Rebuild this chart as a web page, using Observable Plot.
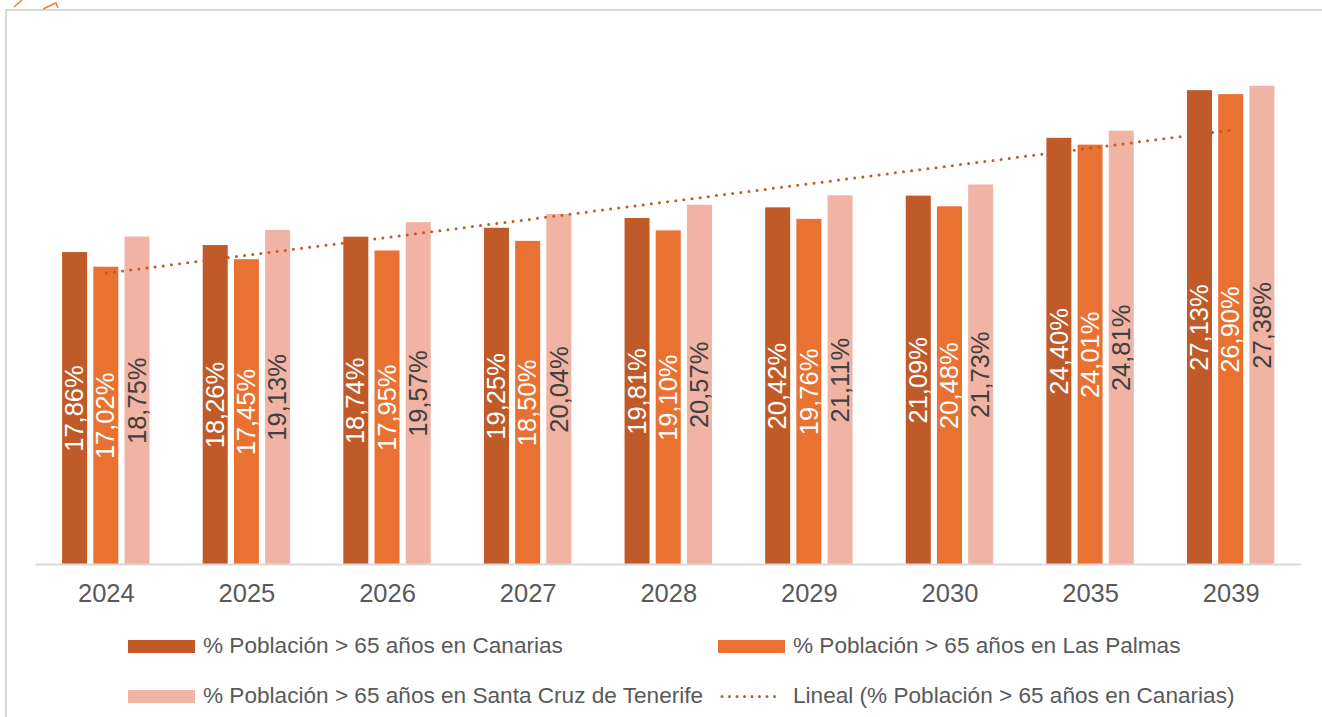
<!DOCTYPE html>
<html>
<head>
<meta charset="utf-8">
<script src="https://cdn.jsdelivr.net/npm/d3@7"></script>
<script src="https://cdn.jsdelivr.net/npm/@observablehq/plot@0.6"></script>
<style>
  html, body { margin: 0; padding: 0; background: #fff; overflow: hidden; width: 1322px; height: 717px; }
  body { font-family: "Liberation Sans", Arial, sans-serif; position: relative; }
  #frame { position: absolute; left: 5px; top: 9px; width: 1400px; height: 800px; border: 2px solid #d9d9d9; box-sizing: border-box; }
  #deco { position: absolute; left: 0; top: 0; }
  #chart { position: absolute; left: 0; top: 0; }
  #legend { position: absolute; left: 128px; top: 621px; color: #595959; font-size: 22.6px; }
  .row { height: 50px; display: flex; align-items: center; }
  .item { display: flex; align-items: center; width: 590px; white-space: nowrap; }
  .sw { width: 67px; height: 13px; margin-right: 8px; flex: none; }
</style>
</head>
<body>
<div id="frame"></div>
<svg id="deco" width="70" height="20"><polyline points="14,7 22,0" fill="none" stroke="#ED7D31" stroke-width="1.5"/><polyline points="43,9 56,3 58,8" fill="none" stroke="#ED7D31" stroke-width="1.5"/></svg>
<div id="chart"></div>
<div id="legend"></div>
<script>
const years = ["2024", "2025", "2026", "2027", "2028", "2029", "2030", "2035", "2039"];
const canarias = [17.86, 18.26, 18.74, 19.25, 19.81, 20.42, 21.09, 24.40, 27.13];
const lasPalmas = [17.02, 17.45, 17.95, 18.50, 19.10, 19.76, 20.48, 24.01, 26.90];
const tenerife = [18.75, 19.13, 19.57, 20.04, 20.57, 21.11, 21.73, 24.81, 27.38];
const seriesNames = [
  "% Población > 65 años en Canarias",
  "% Población > 65 años en Las Palmas",
  "% Población > 65 años en Santa Cruz de Tenerife"
];
const trendName = "Lineal (% Población > 65 años en Canarias)";
const colors = ["#C05A28", "#E97132", "#F1B3A3"];
const labelColors = ["#ffffff", "#ffffff", "#404040"];

const seriesValues = [canarias, lasPalmas, tenerife];
const rows = seriesValues.map((vals, k) => years.map((y, i) => ({year: y, serie: k, value: vals[i]})));

// linear trend (least squares) of Canarias vs category index, like a spreadsheet trendline
const mx = d3.mean(canarias, (_, i) => i);
const my = d3.mean(canarias);
const slope = d3.sum(canarias, (v, i) => (i - mx) * (v - my)) / d3.sum(canarias, (_, i) => (i - mx) ** 2);
const intercept = my - slope * mx;
const trend = years.map((y, i) => ({year: y, value: intercept + slope * i}));

const W = 1322, H = 616;
const mL = 35.5, mR = 21;
const step = (W - mL - mR) / years.length;
const barW = 25;
const inset = (step - barW) / 2;
const offsets = [-31.2, 0, 31.2];
const fmt = v => v.toFixed(2).replace(".", ",") + "%";

const marks = [];
rows.forEach((data, k) => {
  marks.push(Plot.barY(data, {x: "year", y: "value", fill: colors[k], dx: offsets[k], insetLeft: inset, insetRight: inset}));
});
marks.push(Plot.ruleY([0], {stroke: "#d9d9d9", strokeWidth: 2}));
rows.forEach((data, k) => {
  marks.push(Plot.text(data, {x: "year", y: d => d.value / 2, text: d => fmt(d.value), rotate: -90, dx: offsets[k], fill: labelColors[k], fontSize: 25.5}));
});
marks.push(Plot.line(trend, {x: "year", y: "value", stroke: "#C05A28", strokeWidth: 3, strokeDasharray: "0 8.2", strokeLinecap: "round"}));
marks.push(Plot.axisX({tickSize: 0, tickPadding: 19, fontSize: 25.5, fill: "#595959", label: null}));

const chart = Plot.plot({
  width: W, height: H,
  marginLeft: mL, marginRight: mR, marginTop: 40, marginBottom: H - 564,
  style: {fontFamily: "'Liberation Sans', Arial, sans-serif", background: "transparent", overflow: "visible"},
  x: {type: "band", domain: years, padding: 0, round: false, label: null},
  y: {domain: [0, 30], axis: null},
  marks
});
document.getElementById("chart").appendChild(chart);

// legend
const legend = document.getElementById("legend");
const items = [
  {name: seriesNames[0], color: colors[0]},
  {name: seriesNames[1], color: colors[1]},
  {name: seriesNames[2], color: colors[2]},
  {name: trendName, trend: true}
];
for (let r = 0; r < 2; r++) {
  const row = document.createElement("div");
  row.className = "row";
  for (let c = 0; c < 2; c++) {
    const it = items[r * 2 + c];
    const el = document.createElement("div");
    el.className = "item";
    if (it.trend) {
      el.innerHTML = `<svg width="67" height="13" style="margin-right:8px;flex:none"><line x1="4" y1="6.5" x2="64" y2="6.5" stroke="#C05A28" stroke-width="3" stroke-dasharray="0 7.5" stroke-linecap="round"/></svg>`;
    } else {
      el.innerHTML = `<span class="sw" style="background:${it.color}"></span>`;
    }
    const t = document.createElement("span");
    t.textContent = it.name;
    el.appendChild(t);
    row.appendChild(el);
  }
  legend.appendChild(row);
}
</script>
</body>
</html>
